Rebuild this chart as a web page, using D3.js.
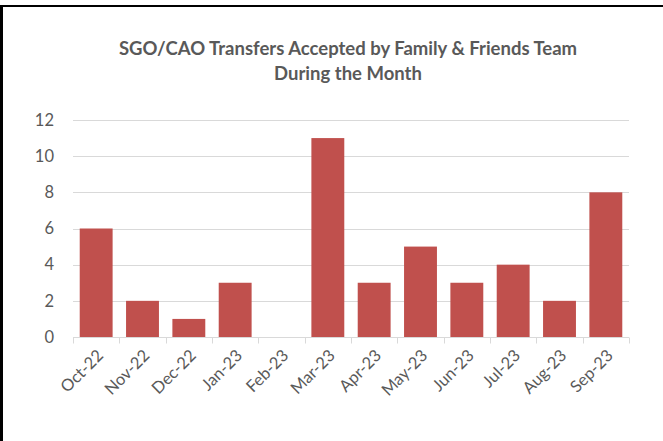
<!DOCTYPE html>
<html lang="en">
<head>
<meta charset="UTF-8">
<title>SGO/CAO Transfers</title>
<script src="https://cdn.jsdelivr.net/npm/d3@7"></script>
<style>
  body { margin: 0; background: #fff; }
  text { font-family: Lato, "Open Sans", sans-serif; fill: #595959; }
</style>
</head>
<body>
<script>
var months = ["Oct-22", "Nov-22", "Dec-22", "Jan-23", "Feb-23", "Mar-23",
              "Apr-23", "May-23", "Jun-23", "Jul-23", "Aug-23", "Sep-23"];
var transfers = [6, 2, 1, 3, 0, 11, 3, 5, 3, 4, 2, 8];
var yTicks = [0, 2, 4, 6, 8, 10, 12];
var titleLines = ["SGO/CAO Transfers Accepted by Family & Friends Team", "During the Month"];

var width = 663, height = 441;
var margin = {top: 120, right: 34, bottom: 104, left: 73};

var svg = d3.select("body").append("svg")
    .attr("width", width).attr("height", height);

// frame (top and left edges only visible)
svg.append("line").attr("x1", 0).attr("x2", width).attr("y1", 6).attr("y2", 6)
    .attr("stroke", "#000").attr("stroke-width", 2);
svg.append("line").attr("x1", 1.5).attr("x2", 1.5).attr("y1", 5).attr("y2", height)
    .attr("stroke", "#000").attr("stroke-width", 3);

var x = d3.scaleBand()
    .domain(months)
    .range([margin.left, width - margin.right])
    .paddingInner(0.29)
    .paddingOuter(0.145);

var y = d3.scaleLinear()
    .domain([0, 12])
    .range([height - margin.bottom, margin.top]);

// title
svg.append("text")
    .attr("text-anchor", "middle")
    .attr("font-weight", "bold")
    .attr("font-size", "18.5px")
    .selectAll("tspan")
    .data(titleLines)
    .enter().append("tspan")
    .attr("x", 348)
    .attr("y", function(d, i) { return 55 + i * 25; })
    .text(function(d) { return d; });

// gridlines
svg.append("g").selectAll("line")
    .data(yTicks.filter(function(d) { return d > 0; }))
    .enter().append("line")
    .attr("x1", margin.left).attr("x2", width - margin.right)
    .attr("y1", function(d) { return Math.round(y(d)) + 0.5; })
    .attr("y2", function(d) { return Math.round(y(d)) + 0.5; })
    .attr("stroke", "#d9d9d9").attr("stroke-width", 1);

// y labels
svg.append("g").selectAll("text")
    .data(yTicks)
    .enter().append("text")
    .attr("x", 54)
    .attr("y", function(d) { return y(d); })
    .attr("dy", "0.35em")
    .attr("text-anchor", "end")
    .attr("font-size", "16.5px")
    .text(function(d) { return d; });

// bars
svg.append("g").selectAll("rect")
    .data(transfers)
    .enter().append("rect")
    .attr("x", function(d, i) { return x(months[i]); })
    .attr("y", function(d) { return y(d); })
    .attr("width", x.bandwidth())
    .attr("height", function(d) { return y(0) - y(d); })
    .attr("fill", "#c0504d");

// x axis
var step = x.step();
var axisY = Math.round(y(0)) + 0.5;
svg.append("line")
    .attr("x1", margin.left).attr("x2", width - margin.right)
    .attr("y1", axisY).attr("y2", axisY)
    .attr("stroke", "#d9d9d9");
svg.append("g").selectAll("line")
    .data(d3.range(months.length + 1))
    .enter().append("line")
    .attr("x1", function(i) { return Math.round(margin.left + i * step) + 0.5; })
    .attr("x2", function(i) { return Math.round(margin.left + i * step) + 0.5; })
    .attr("y1", axisY).attr("y2", axisY + 6)
    .attr("stroke", "#d9d9d9");

svg.append("g").selectAll("text")
    .data(months)
    .enter().append("text")
    .attr("font-size", "16.5px")
    .attr("text-anchor", "end")
    .attr("transform", function(d) {
        var cx = x(d) + x.bandwidth() / 2 + 4;
        return "translate(" + cx + "," + (axisY + 15) + ") rotate(-45)";
    })
    .attr("dy", "0.35em")
    .text(function(d) { return d; });
</script>
</body>
</html>
